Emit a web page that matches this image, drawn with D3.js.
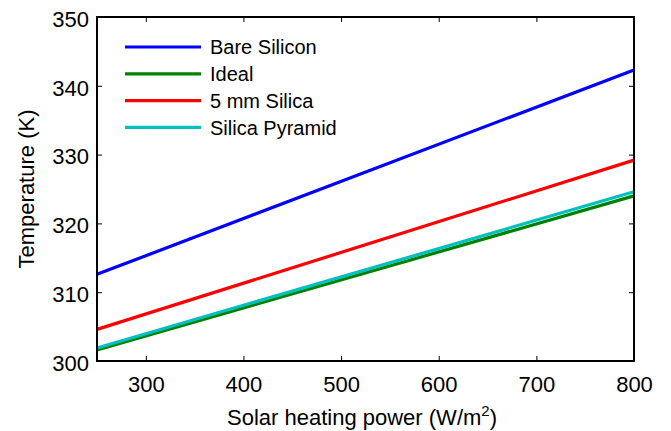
<!DOCTYPE html>
<html>
<head>
<meta charset="utf-8">
<script src="https://cdn.jsdelivr.net/npm/d3@7"></script>
<style>
  body { margin: 0; background: #fff; }
  svg text { font-family: "Liberation Sans", Arial, sans-serif; fill: #000; }
</style>
</head>
<body>
<div id="chart"></div>
<script>
// chart data
var powerRange = [250, 800];
var seriesNames = ["Bare Silicon", "Ideal", "5 mm Silica", "Silica Pyramid"];
var seriesColors = ["#0000ff", "#008000", "#ff0000", "#00bfbf"];
var bareSilicon = [312.6, 342.3];
var ideal = [301.6, 324.0];
var silica5mm = [304.6, 329.2];
var silicaPyramid = [301.9, 324.6];
var xTicks = [300, 400, 500, 600, 700, 800];
var yTicks = [300, 310, 320, 330, 340, 350];

var allSeries = [bareSilicon, ideal, silica5mm, silicaPyramid];

var width = 671;
var height = 431;
var margin = {left: 97, right: 37, top: 17, bottom: 70};

var x = d3.scaleLinear().domain(powerRange).range([margin.left, width - margin.right]);
var y = d3.scaleLinear().domain([300, 350]).range([height - margin.bottom, margin.top]);

var svg = d3.select("#chart").append("svg")
    .attr("width", width)
    .attr("height", height);

// lines (drawn first so the frame sits on top)
var line = d3.line()
    .x(function(d) { return x(d[0]); })
    .y(function(d) { return y(d[1]); });

// draw in order so that cyan sits over green as in the figure
var drawOrder = [0, 2, 1, 3];
drawOrder.forEach(function(i) {
  var pts = powerRange.map(function(p, j) { return [p, allSeries[i][j]]; });
  svg.append("path")
      .datum(pts)
      .attr("d", line)
      .attr("fill", "none")
      .attr("stroke", seriesColors[i])
      .attr("stroke-width", 3.2);
});

// axes, ticks pointing inward, mirrored on top and right
var fmt = d3.format("d");
var axBottom = svg.append("g")
    .attr("transform", "translate(0," + (height - margin.bottom) + ")")
    .call(d3.axisBottom(x).tickValues(xTicks).tickSize(-5).tickPadding(15).tickFormat(fmt));
var axLeft = svg.append("g")
    .attr("transform", "translate(" + margin.left + ",0)")
    .call(d3.axisLeft(y).tickValues(yTicks).tickSize(-5).tickPadding(8).tickFormat(fmt));
var axTop = svg.append("g")
    .attr("transform", "translate(0," + margin.top + ")")
    .call(d3.axisTop(x).tickValues(xTicks).tickSize(-5).tickFormat(""));
var axRight = svg.append("g")
    .attr("transform", "translate(" + (width - margin.right) + ",0)")
    .call(d3.axisRight(y).tickValues(yTicks).tickSize(-5).tickFormat(""));

[axBottom, axLeft, axTop, axRight].forEach(function(g) {
  g.select(".domain").remove();
  g.selectAll("line").attr("stroke", "#000").attr("stroke-width", 1);
  g.selectAll("text").style("font-size", "22px").attr("fill", "#000");
});
axLeft.selectAll("text").attr("dy", "0.42em");

svg.append("rect")
    .attr("x", margin.left)
    .attr("y", margin.top)
    .attr("width", width - margin.left - margin.right)
    .attr("height", height - margin.top - margin.bottom)
    .attr("fill", "none")
    .attr("stroke", "#000")
    .attr("stroke-width", 2);

// axis labels
var xLabel = svg.append("text")
    .attr("x", 362)
    .attr("y", 425)
    .attr("text-anchor", "middle")
    .style("font-size", "22px");
xLabel.append("tspan").text("Solar heating power (W/m");
xLabel.append("tspan").attr("dy", -9).style("font-size", "15px").text("2");
xLabel.append("tspan").attr("dy", 9).text(")");

svg.append("text")
    .attr("transform", "translate(34," + ((margin.top + height - margin.bottom) / 2) + ") rotate(-90)")
    .attr("text-anchor", "middle")
    .style("font-size", "22px")
    .text("Temperature (K)");

// legend
var legend = svg.selectAll(".legend")
    .data(seriesNames)
    .enter()
    .append("g")
    .attr("class", "legend")
    .attr("transform", function(d, i) { return "translate(125," + (47 + i * 26.8) + ")"; });

legend.append("line")
    .attr("x1", 0)
    .attr("x2", 76)
    .attr("stroke", function(d, i) { return seriesColors[i]; })
    .attr("stroke-width", 3.2);

legend.append("text")
    .attr("x", 85)
    .attr("dy", "0.36em")
    .style("font-size", "20px")
    .text(function(d) { return d; });
</script>
</body>
</html>
